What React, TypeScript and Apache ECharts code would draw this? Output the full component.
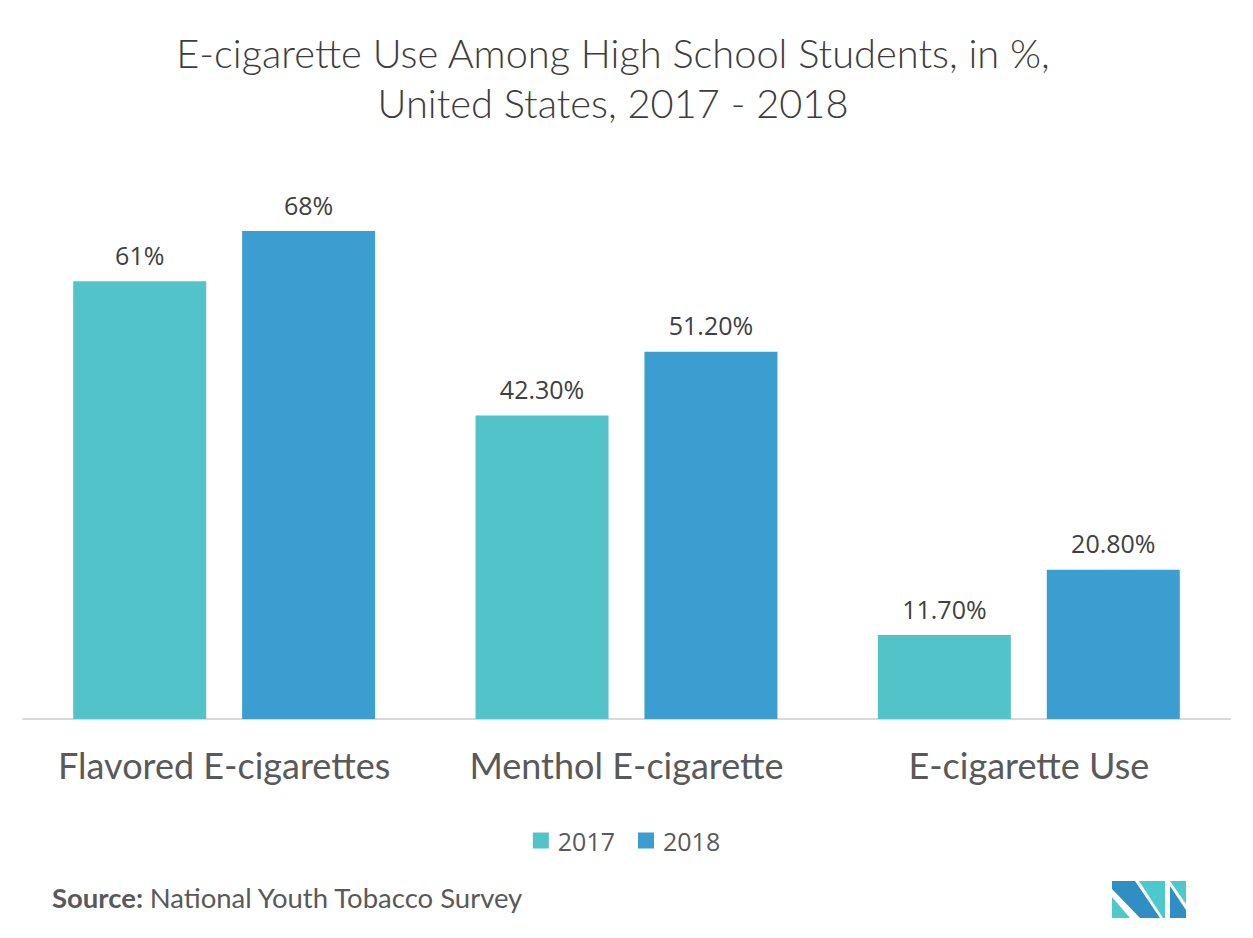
import React, { useEffect, useRef } from "react";
import * as echarts from "echarts";

const categories = ["Flavored E-cigarettes", "Menthol E-cigarette", "E-cigarette Use"];
const values2017 = [61, 42.3, 11.7];
const values2018 = [68, 51.2, 20.8];
const labels2017 = ["61%", "42.30%", "11.70%"];
const labels2018 = ["68%", "51.20%", "20.80%"];
const seriesNames = ["2017", "2018"];

export default function App() {
  const ref = useRef<HTMLDivElement>(null);
  useEffect(() => {
    document.body.style.margin = "0";
    const chart = echarts.init(ref.current!, null, { renderer: "svg" });
    const labelStyle = (labels: string[]) => ({
      show: true,
      position: "top",
      distance: 14,
      fontFamily: "Open Sans",
      fontSize: 25,
      color: "#404040",
      formatter: (p: any) => labels[p.dataIndex],
    });
    chart.setOption({
      animation: false,
      backgroundColor: "#ffffff",
      legend: {
        data: seriesNames,
        top: 823,
        left: "center",
        icon: "rect",
        itemWidth: 16,
        itemHeight: 16,
        itemGap: 23,
        textStyle: { fontFamily: "Open Sans", fontSize: 25, color: "#595959", padding: [0, 0, 0, 4] },
      },
      grid: { left: 23, right: 23, top: 145, bottom: 219, containLabel: false },
      xAxis: {
        type: "category",
        data: categories,
        axisLine: { lineStyle: { color: "#d9d9d9", width: 2 } },
        axisTick: { show: false },
        axisLabel: {
          interval: 0,
          hideOverlap: false,
          fontFamily: "Lato",
          fontSize: 36,
          color: "#595959",
          margin: 28,
        },
      },
      yAxis: {
        type: "value",
        min: 0,
        max: 80,
        show: false,
        splitLine: { show: false },
      },
      series: [
        {
          name: seriesNames[0],
          type: "bar",
          data: values2017,
          barWidth: 133,
          barGap: "27%",
          itemStyle: { color: "#52C3C9" },
          label: labelStyle(labels2017),
        },
        {
          name: seriesNames[1],
          type: "bar",
          data: values2018,
          barWidth: 133,
          barGap: "27%",
          itemStyle: { color: "#3C9DD0" },
          label: labelStyle(labels2018),
        },
      ],
      graphic: [
        {
          type: "text",
          x: 613,
          y: 27,
          style: {
            text: "E-cigarette Use Among High School Students, in %,\nUnited States, 2017 - 2018",
            align: "center",
            fontFamily: "Lato",
            fontSize: 39.8,
            fontWeight: 300,
            fill: "#3d3d3d",
            lineHeight: 50,
          },
        },
        {
          type: "text",
          left: 52,
          top: 883,
          style: {
            text: "{b|Source: }{r|National Youth Tobacco Survey}",
            rich: {
              b: { fontFamily: "Lato", fontSize: 27.5, fontWeight: "bold", fill: "#595959" },
              r: { fontFamily: "Lato", fontSize: 27.5, fill: "#595959" },
            },
          },
        },
        {
          type: "group",
          left: 1112,
          top: 881,
          children: [
            { type: "polygon", shape: { points: [[0, 0], [23, 0], [48, 37], [28, 37], [0, 8]] }, style: { fill: "#2F8FC5" } },
            { type: "polygon", shape: { points: [[0, 16], [0, 37], [18, 37]] }, style: { fill: "#4DC9CC" } },
            { type: "polygon", shape: { points: [[27, 0], [53, 0], [53, 37], [51, 37]] }, style: { fill: "#4DC9CC" } },
            { type: "polygon", shape: { points: [[58, 0], [74, 0], [74, 23]] }, style: { fill: "#4DC9CC" } },
            { type: "polygon", shape: { points: [[58, 5], [74, 29], [74, 37], [58, 37]] }, style: { fill: "#2F8FC5" } },
          ],
        },
      ],
    });
    return () => chart.dispose();
  }, []);
  return <div ref={ref} style={{ position: "absolute", left: 0, top: 0, width: 1253, height: 938 }} />;
}
